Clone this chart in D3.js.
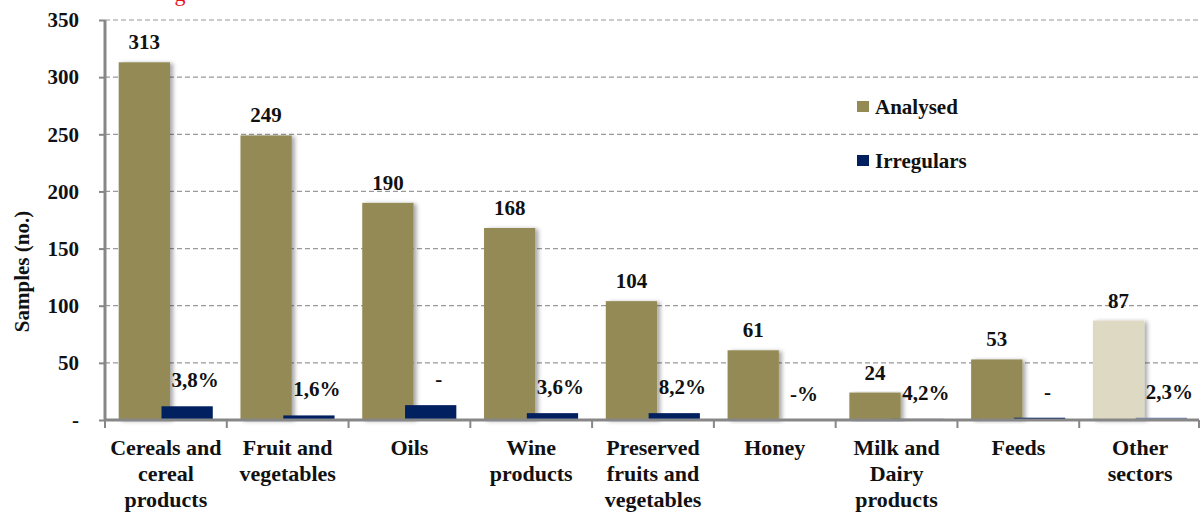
<!DOCTYPE html>
<html>
<head>
<meta charset="utf-8">
<script src="https://cdn.jsdelivr.net/npm/d3@7"></script>
<style>
  html, body { margin: 0; padding: 0; background: #fff; }
  svg { display: block; }
  text { font-family: "Liberation Serif", "Times New Roman", serif; font-weight: bold; fill: #111; }
</style>
</head>
<body>
<svg id="chart" width="1203" height="518"></svg>
<script>
// ---- data ----
const categories = [
  ["Cereals and", "cereal", "products"],
  ["Fruit and", "vegetables"],
  ["Oils"],
  ["Wine", "products"],
  ["Preserved", "fruits and", "vegetables"],
  ["Honey"],
  ["Milk and", "Dairy", "products"],
  ["Feeds"],
  ["Other", "sectors"]
];
const analysed = [313, 249, 190, 168, 104, 61, 24, 53, 87];
const irregulars = [12, 4, 13, 6, 6, 0, 1, 2, 2];
const irregularLabels = ["3,8%", "1,6%", "-", "3,6%", "8,2%", "-%", "4,2%", "-", "2,3%"];
const yTicks = [0, 50, 100, 150, 200, 250, 300, 350];
const legendLabels = ["Analysed", "Irregulars"];
const yTitle = "Samples (no.)";

// ---- drawing ----
(function () {
const svg = d3.select("#chart");
const pLeft = 105, pRight = 1201, pTop = 20, pBottom = 420;
const gold = "#948A54", navy = "#002060";
const goldLight = "#DDD9C3", navyLight = "#7587B0";
const axisColor = "#878787";

const idx = d3.range(categories.length);
const x = d3.scaleBand().domain(idx).range([pLeft, pRight]).padding(0);
const y = d3.scaleLinear().domain([0, 350]).range([pBottom, pTop]);
const bw = x.bandwidth();
const barW = bw * 0.421;
const goldOff = bw * 0.1125, navyOff = bw * 0.464;

const defs = svg.append("defs");
const f = defs.append("filter").attr("id", "shadow")
  .attr("x", "-20%").attr("y", "-5%").attr("width", "150%").attr("height", "110%");
f.append("feDropShadow").attr("dx", 3).attr("dy", 1).attr("stdDeviation", 2)
  .attr("flood-color", "#000").attr("flood-opacity", 0.35);

// partially visible red title (cut off at top, as in the reference)
svg.append("text").attr("x", 180).attr("y", 1).attr("text-anchor", "middle")
  .style("font-size", "22px").style("fill", "#e8131b").style("font-weight", "normal").text("g");

// gridlines
svg.append("g").selectAll("line").data(yTicks.filter(d => d > 0)).join("line")
  .attr("x1", pLeft).attr("x2", 1200)
  .attr("y1", d => y(d)).attr("y2", d => y(d))
  .attr("stroke", "#9a9a9a").attr("stroke-width", 1.2).attr("stroke-dasharray", "5,3");

// Y axis
const yAxis = svg.append("g").attr("transform", `translate(${pLeft},0)`)
  .call(d3.axisLeft(y).tickValues(yTicks).tickFormat(d => d === 0 ? "-" : d).tickSize(6).tickPadding(20));
yAxis.select(".domain").attr("stroke", axisColor).attr("stroke-width", 3).attr("d", `M0,${pTop}V${pBottom}`);
yAxis.selectAll(".tick line").attr("stroke", axisColor).attr("stroke-width", 2);
yAxis.selectAll(".tick text").style("font-size", "21px").style("font-family", "Liberation Serif, serif").style("font-weight", "bold").attr("fill", "#111");

// Y title
svg.append("text").attr("transform", `translate(29,${(205 + 338) / 2}) rotate(-90)`)
  .attr("text-anchor", "middle").style("font-size", "21px").text(yTitle);

// bars
const bars = svg.append("g");
bars.selectAll("rect.an").data(idx).join("rect").attr("class", "an")
  .attr("x", i => x(i) + goldOff).attr("width", barW)
  .attr("y", i => y(analysed[i])).attr("height", i => y(0) - y(analysed[i]))
  .attr("fill", i => i === categories.length - 1 ? goldLight : gold)
  .attr("filter", "url(#shadow)");
bars.selectAll("rect.ir").data(idx.filter(i => irregulars[i] > 0)).join("rect").attr("class", "ir")
  .attr("x", i => x(i) + navyOff).attr("width", barW)
  .attr("y", i => y(irregulars[i])).attr("height", i => y(0) - y(irregulars[i]))
  .attr("fill", i => i === categories.length - 1 ? navyLight : navy);

// X axis
svg.append("line").attr("x1", pLeft).attr("x2", pRight - 2).attr("y1", pBottom).attr("y2", pBottom)
  .attr("stroke", axisColor).attr("stroke-width", 3);
const bounds = idx.map(i => x(i)).concat([pRight - 2]);
svg.append("g").selectAll("line").data(bounds).join("line")
  .attr("x1", d => d).attr("x2", d => d).attr("y1", pBottom).attr("y2", pBottom + 8)
  .attr("stroke", axisColor).attr("stroke-width", 2);

// category labels
const cat = svg.append("g").selectAll("text").data(idx).join("text")
  .attr("text-anchor", "middle").style("font-size", "22px")
  .attr("x", i => x(i) + bw / 2).attr("y", 455);
cat.selectAll("tspan").data(i => categories[i].map(t => ({ t, cx: x(i) + bw / 2 }))).join("tspan")
  .attr("x", d => d.cx).attr("dy", (d, j) => j === 0 ? 0 : 26).text(d => d.t);

// value labels
svg.append("g").selectAll("text").data(idx).join("text")
  .attr("text-anchor", "middle").style("font-size", "21px")
  .attr("x", i => x(i) + goldOff + barW / 2)
  .attr("y", i => y(analysed[i]) - 13).text(i => analysed[i]);
svg.append("g").selectAll("text").data(idx).join("text")
  .attr("text-anchor", "middle").style("font-size", "21px")
  .attr("x", i => x(i) + navyOff + barW / 2 + 8)
  .attr("y", i => y(irregulars[i]) - 19).text(i => irregularLabels[i]);

// legend
const lg = svg.append("g").selectAll("g").data(legendLabels).join("g")
  .attr("transform", (d, i) => `translate(857,${107 + i * 54})`);
lg.append("rect").attr("x", 0).attr("y", -6).attr("width", 12).attr("height", 11)
  .attr("fill", (d, i) => i === 0 ? gold : navy);
lg.append("text").attr("x", 18).attr("dy", "0.35em").style("font-size", "21px").text(d => d);
})();
</script>
</body>
</html>
